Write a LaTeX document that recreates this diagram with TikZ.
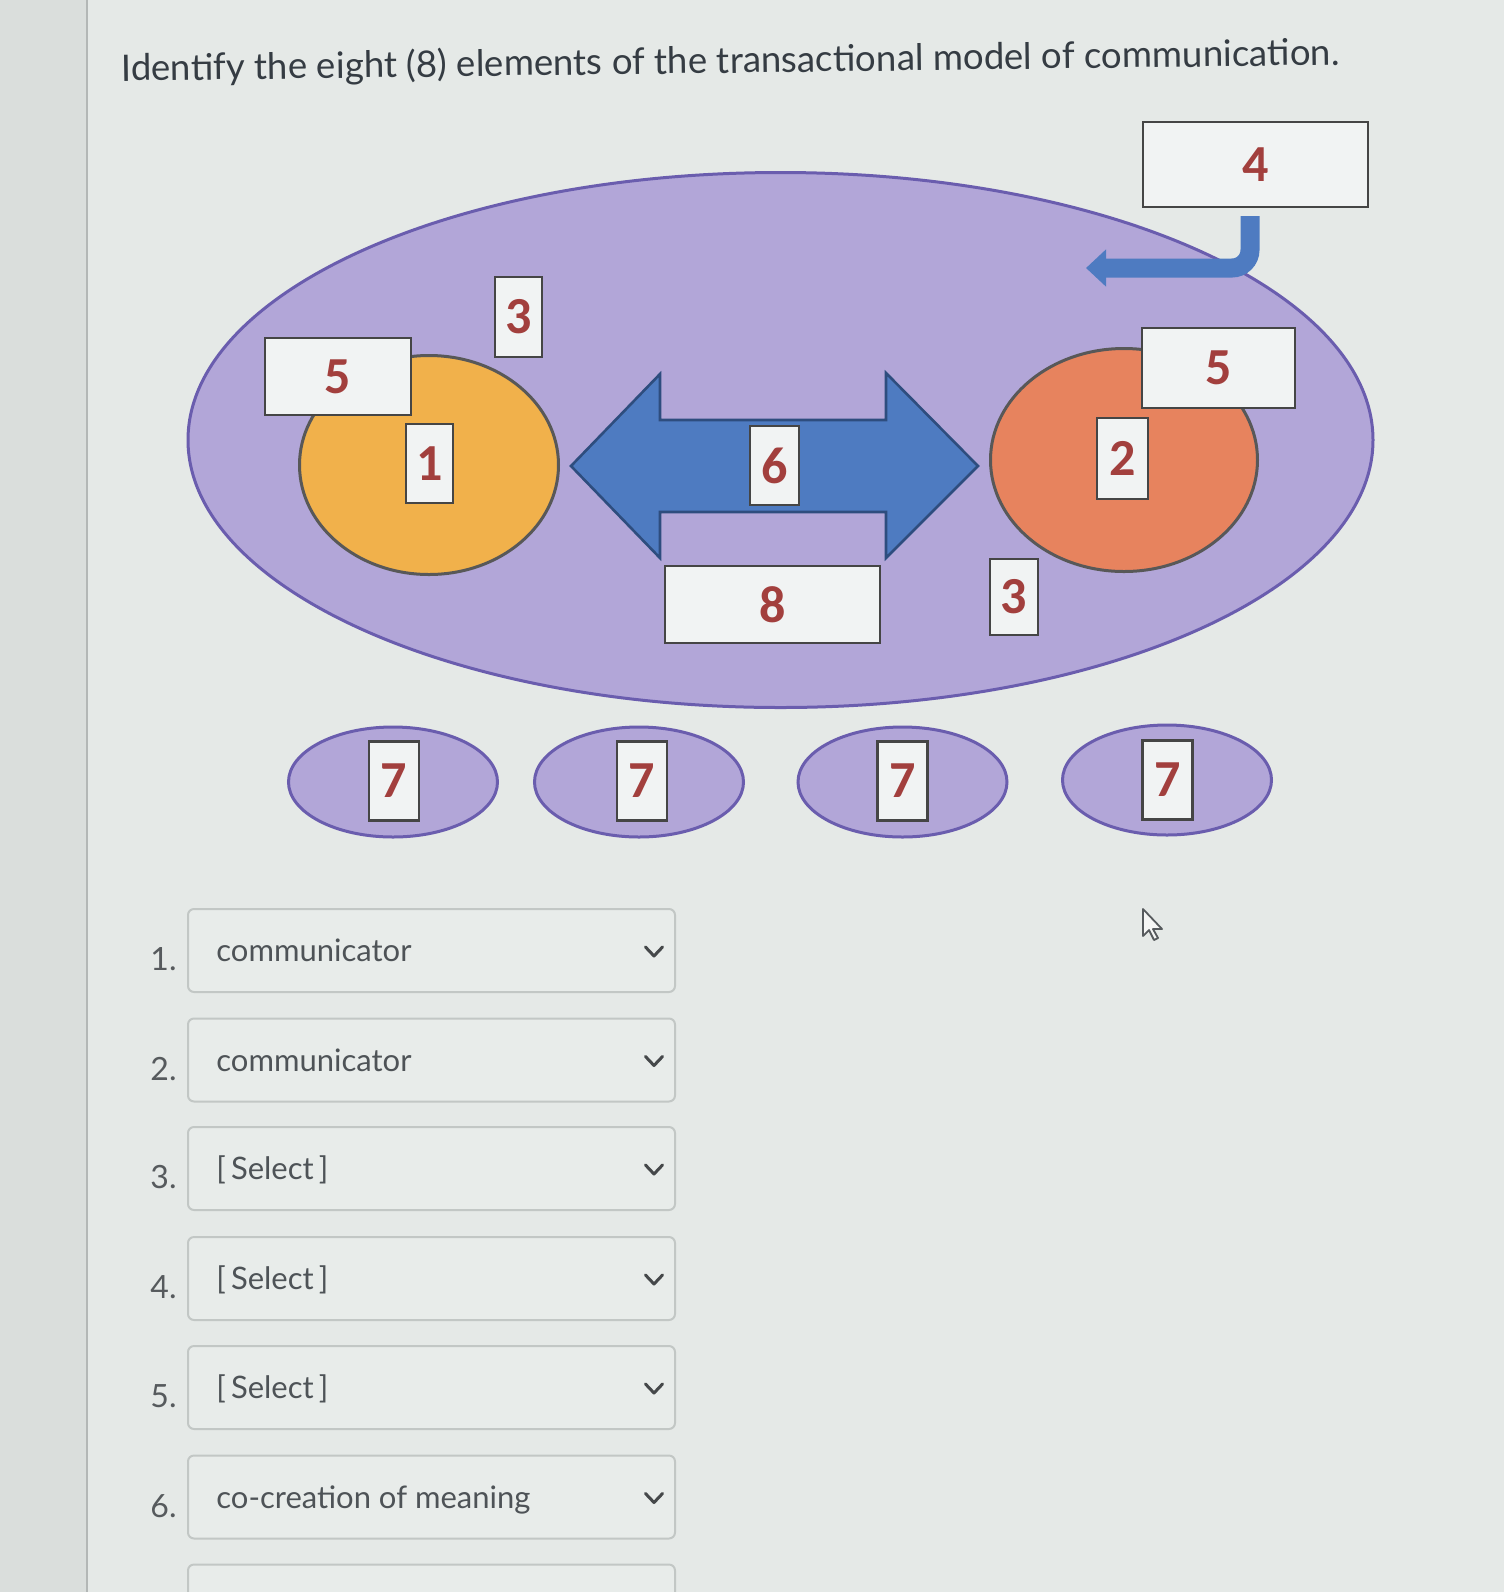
\documentclass[tikz,border=0pt]{standalone}
\usepackage{fontspec}
\newfontfamily\latofont{Lato}
\newfontfamily\digfont{Carlito}
\usetikzlibrary{shapes.geometric,arrows.meta}
\definecolor{bg}{HTML}{E5E9E7}
\definecolor{strip}{HTML}{DADEDC}
\definecolor{stripline}{HTML}{B3B7B6}
\definecolor{lav}{HTML}{B2A6D8}
\definecolor{lavline}{HTML}{6A5DAE}
\definecolor{blu}{HTML}{4E7BC1}
\definecolor{bluline}{HTML}{2E4D7E}
\definecolor{orng}{HTML}{F1B14B}
\definecolor{redo}{HTML}{E7835E}
\definecolor{digred}{HTML}{A23F3D}
\definecolor{boxfill}{HTML}{F1F3F3}
\definecolor{boxline}{HTML}{454545}
\definecolor{titlecol}{HTML}{353C43}
\definecolor{txt}{HTML}{4E5357}
\definecolor{numcol}{HTML}{565A5D}
\definecolor{ddline}{HTML}{C2C7C5}
\definecolor{ddfill}{HTML}{E8ECEA}
\begin{document}
\begin{tikzpicture}[x=0.5pt,y=-0.5pt,
  bigell/.style={ellipse, draw=lavline, fill=lav, line width=1.5pt, inner sep=0pt},
  headell/.style={ellipse, draw=boxline!90, line width=1.5pt, inner sep=0pt},
  numbox/.style={draw=boxline, fill=boxfill, line width=1.2pt, inner sep=0pt,
     text=digred, font=\digfont\bfseries\fontsize{26pt}{28pt}\selectfont},
  ddbox/.style={draw=ddline, fill=ddfill, line width=1pt, rounded corners=3pt,
     minimum width=243.5pt, minimum height=41.5pt, inner sep=0pt},
  ddtext/.style={anchor=base west, inner sep=0pt, text=txt,
     font=\latofont\fontsize{15.5pt}{17pt}\selectfont},
  ddnum/.style={anchor=base east, inner sep=0pt, text=numcol,
     font=\latofont\fontsize{16pt}{18pt}\selectfont}]
\useasboundingbox (0,0) rectangle (1504,1592);
\clip (0,0) rectangle (1504,1592);
% background
\fill[bg] (0,0) rectangle (1504,1592);
\fill[strip] (0,0) rectangle (87,1592);
\draw[stripline, line width=1pt] (87,0) -- (87,1592);
% title
\node[anchor=base west, inner sep=0pt, text=titlecol, rotate=0.75,
  font=\latofont\fontsize{18.3pt}{20pt}\selectfont] (title) at (121,81)
  {Identify the eight (8) elements of the transactional model of communication.};
% context ellipse
\node[bigell, minimum width=592.5pt, minimum height=267.5pt] (ctx) at (780.5,440) {};
% communicators
\node[headell, fill=orng, minimum width=129.5pt, minimum height=109.5pt] (c1) at (429,465) {};
\node[headell, fill=redo, minimum width=133.5pt, minimum height=111.5pt] (c2) at (1124,460) {};
% double arrow (message)
\fill[blu, draw=bluline, line width=1.3pt, line join=miter]
  (571,466) -- (660,374) -- (660,420) -- (886,420) -- (886,373) -- (978,466)
  -- (886,558) -- (886,512) -- (660,512) -- (660,558) -- cycle;
% small ellipses
\foreach \i/\x/\y in {1/393/782, 2/639/782, 3/902.5/782, 4/1167/780}{
  \node[bigell, minimum width=104.5pt, minimum height=55pt] (s\i) at (\x,\y) {};
}
% number boxes
\node[numbox, minimum width=73pt, minimum height=38.5pt] (b5a) at (338,376.5) {5};
\node[numbox, minimum width=23.5pt, minimum height=40pt] (b3a) at (518.5,317) {3};
\node[numbox, minimum width=23.5pt, minimum height=39.5pt] (b1) at (429.5,463.5) {1};
\node[numbox, minimum width=24.5pt, minimum height=39.5pt] (b6) at (774.5,465.5) {6};
\node[numbox, minimum width=107.5pt, minimum height=38.5pt] (b8) at (772.5,604.5) {8};
\node[numbox, minimum width=24pt, minimum height=38pt] (b3b) at (1014,597) {3};
\node[numbox, minimum width=25.5pt, minimum height=40.5pt] (b2) at (1122.5,458.5) {2};
\node[numbox, minimum width=76.5pt, minimum height=40pt] (b5b) at (1218.5,368) {5};
\node[numbox, minimum width=112.5pt, minimum height=42.5pt] (b4) at (1255.5,164.5) {4};
\foreach \i/\x/\y in {1/394/781, 2/642/781, 3/902.5/781, 4/1167.5/780}{
  \node[numbox, minimum width=25pt, minimum height=39.5pt] (b7\i) at (\x,\y) {7};
}
% bent arrow from noise box
\coordinate (ntip) at (1086,268);
\draw[blu, line width=9.5pt, rounded corners=9pt,
  -{Triangle[length=10pt,width=18pt]}]
  ([xshift=-2.75pt,yshift=-4pt]b4.south) |- (ntip);
% dropdown list
\foreach \i/\c/\t in {1/950.5/communicator, 2/1060/communicator, 3/1168.5/{[\,Select\,]},
   4/1278.5/{[\,Select\,]}, 5/1387.5/{[\,Select\,]}, 6/1497/co-creation of meaning}{
  \node[ddbox] (dd\i) at (431.5,\c) {};
  \node[ddtext] (ddt\i) at (216,\c+11) {\t};
  \node[ddnum] (ddn\i) at (177,\c+20) {\i.};
  \draw[numcol!80!black, line width=1.5pt, line cap=round, line join=round]
    (645.5,\c-3.5) -- (654,\c+5.5) -- (662.5,\c-3.5);
}
% seventh dropdown, cut off by the bottom edge
\node[ddbox] (dd7) at (431.5,1606) {};
% mouse pointer
\coordinate (ptr) at (1143,909);
\filldraw[fill=bg!40!white, draw=numcol, line width=0.9pt, line join=round]
  (ptr) -- ++(0,27) -- ++(6,-6) -- ++(5,10) -- ++(4,-2) -- ++(-5,-9) -- ++(9,0) -- cycle;
\end{tikzpicture}
\end{document}
